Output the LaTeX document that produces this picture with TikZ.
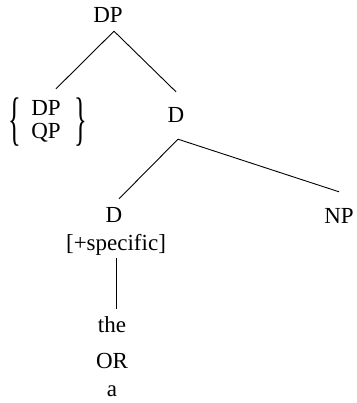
\documentclass[tikz,border=0pt]{standalone}
\usepackage{fontspec}
\usepackage{graphicx}
\setmainfont{Liberation Serif}
\usetikzlibrary{positioning}
\newcommand{\tallbrace}[1]{\vcenter{\hbox{\scalebox{1.15}[2.55]{#1}}}}
\begin{document}
\begin{tikzpicture}[
  x=1pt, y=-1pt,
  node distance=4pt,
  cat/.style={font=\fontsize{23}{27}\selectfont, inner xsep=0pt, inner ysep=8pt, text height=15pt, text depth=0pt, anchor=base},
  wide/.style={cat, inner ysep=16pt},
  branch/.style={line width=0.9pt}
]
\useasboundingbox (0,0) rectangle (356,403);
\node[cat] (top) at (108,23) {DP};
\node[font=\fontsize{23}{27}\selectfont, inner sep=0pt] (spec) at (48,122)
  {$\tallbrace{\{}\hspace{5pt}\begin{array}{c}\mbox{DP}\\[-4pt]\mbox{QP}\end{array}\hspace{9pt}\tallbrace{\}}$};
\node[wide] (dbar) at (176,123) {D};
\node[cat] (dhead) at (114,222) {D};
\node[wide] (np) at (339,223) {NP};
\node[cat] (feat) at (116,250) {[+specific]};
\node[cat] (the) at (112,332) {the};
\node[cat, below=5pt of the] (or) {OR};
\node[cat, inner ysep=1pt, below=4pt of or] (a) {a};
\draw[branch] ([xshift=6pt]top.south) -- ([xshift=8pt,yshift=8pt]spec.north);
\draw[branch] ([xshift=6pt]top.south) -- (dbar.north);
\draw[branch] ([xshift=2pt]dbar.south) -- ([xshift=5pt]dhead.north);
\draw[branch] ([xshift=2pt]dbar.south) -- (np.north);
\draw[branch] (feat.south) -- (feat.south |- the.north);
\end{tikzpicture}
\end{document}
